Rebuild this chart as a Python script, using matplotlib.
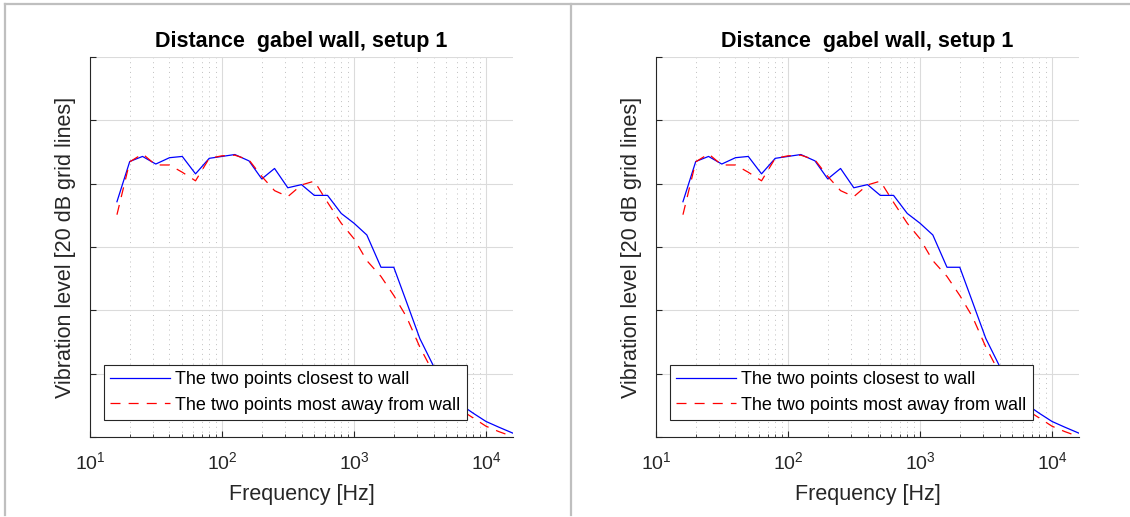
import numpy as np
import matplotlib
matplotlib.use("Agg")
import matplotlib.pyplot as plt
from matplotlib.lines import Line2D
from matplotlib.ticker import LogLocator, FixedLocator, NullFormatter

plt.rcParams['font.family'] = ['Liberation Sans', 'DejaVu Sans']
plt.rcParams['mathtext.fontset'] = 'custom'
plt.rcParams['mathtext.rm'] = 'Liberation Sans'

# Third-octave band centre frequencies [Hz]
freq = [16, 20, 25, 31.5, 40, 50, 63, 80, 100, 125, 160, 200, 250, 315, 400,
        500, 630, 800, 1000, 1250, 1600, 2000, 2500, 3150, 4000, 5000, 6300,
        8000, 10000, 12500, 16000]

# Vibration level [dB]
closest = [74.3, 87.0, 88.6, 86.2, 88.2, 88.6, 83.1, 88.0, 88.6, 89.2, 87.2,
           81.5, 84.8, 78.7, 79.7, 76.3, 76.3, 70.6, 67.5, 63.8, 53.6, 53.6,
           42.6, 31.1, 22.4, 15.0, 10.5, 7.5, 4.9, 3.1, 1.2]
away = [70.2, 86.9, 89.4, 85.9, 85.9, 83.6, 80.9, 88.0, 88.8, 89.0, 87.5,
        82.3, 77.8, 75.9, 79.6, 80.8, 74.1, 67.5, 62.6, 55.7, 50.7, 44.7,
        37.9, 28.4, 20.2, 13.0, 8.8, 6.0, 3.4, 1.7, 0.1]

title = "Distance  gabel wall, setup 1"
labels = ["The two points closest to wall", "The two points most away from wall"]
yticks = [0, 20, 40, 60, 80, 100, 120]

W, H = 1130, 517
fig = plt.figure(figsize=(W / 100, H / 100), dpi=100)

# panel frame lines
gray = (0.75, 0.75, 0.75)
fig.add_artist(Line2D([5 / W, 5 / W], [2 / H, 1 - 4 / H], color=gray, lw=1.6))
fig.add_artist(Line2D([5 / W, 1], [1 - 4 / H, 1 - 4 / H], color=gray, lw=1.6))
fig.add_artist(Line2D([571 / W, 571 / W], [2 / H, 1 - 4 / H], color=gray, lw=1.6))

dark = (0.15, 0.15, 0.15)
for x0 in [90, 656]:
    ax = fig.add_axes([x0 / W, 1 - 437 / H, 423 / W, 380 / H])
    ax.plot(freq, closest, color='blue', lw=0.9, label=labels[0])
    ax.plot(freq, away, color='red', lw=0.9, dashes=(8, 6.5), label=labels[1])
    ax.set_xscale('log')
    ax.set_xlim(10, 16000)
    ax.set_ylim(0, 120)
    ax.yaxis.set_major_locator(FixedLocator(yticks))
    ax.yaxis.set_major_formatter(NullFormatter())
    ax.xaxis.set_major_locator(LogLocator(base=10))
    ax.xaxis.set_minor_locator(LogLocator(base=10, subs=np.arange(2, 10)))
    ax.xaxis.set_minor_formatter(NullFormatter())

    ax.grid(True, which='major', color=(0.86, 0.86, 0.86), lw=0.8, ls='-')
    ax.grid(True, which='minor', axis='x', color=(0.75, 0.75, 0.75), lw=0.7, ls=(0, (1, 4)))
    ax.set_axisbelow(True)

    for s in ['top', 'right']:
        ax.spines[s].set_visible(False)
    for s in ['left', 'bottom']:
        ax.spines[s].set_color(dark)
        ax.spines[s].set_linewidth(0.8)
    ax.tick_params(which='major', direction='in', length=4, width=0.8,
                   color=dark, labelsize=14, pad=10, labelcolor=dark)
    ax.tick_params(which='minor', direction='in', length=2.5, width=0.6, color=dark)

    ax.set_title(title, fontsize=15.5, fontweight='bold', pad=7)
    ax.set_xlabel("Frequency [Hz]", fontsize=15.5, color=dark, labelpad=8)
    ax.set_ylabel("Vibration level [20 dB grid lines]", fontsize=15.5,
                  color=dark, labelpad=0)

    leg = ax.legend(loc='lower left', bbox_to_anchor=(0.033, 0.045), borderaxespad=0,
                    fontsize=13, fancybox=False, framealpha=1, edgecolor=dark,
                    handlelength=3.3, handletextpad=0.3, borderpad=0.35,
                    labelspacing=0.45)
    leg.get_frame().set_linewidth(0.8)

fig.savefig("out.png", dpi=100)
